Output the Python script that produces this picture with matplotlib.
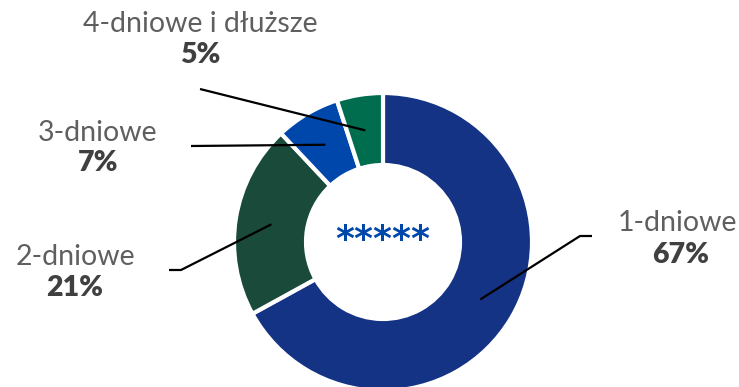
import numpy as np
import matplotlib.pyplot as plt

categories = ["1-dniowe", "2-dniowe", "3-dniowe", "4-dniowe i dłuższe"]
shares = [67, 21, 7, 5]
colors = ["#153384", "#1a4a3a", "#0047ab", "#006e4e"]
center_text = "*****"

W, H = 739, 387
fig = plt.figure(figsize=(W / 100, H / 100), dpi=100)
ax = fig.add_axes([0, 0, 1, 1])

cx, cy = 383, H - 242
R, r = 149, 77

wedges, _ = ax.pie(shares, colors=colors, startangle=90, counterclock=False,
                   radius=R, center=(cx, cy), frame=True,
                   wedgeprops=dict(width=R - r, edgecolor="white", linewidth=3))
ax.set_xlim(0, W)
ax.set_ylim(0, H)
ax.set_aspect("equal")
ax.axis("off")

ax.text(cx, cy + 2, center_text, ha="center", va="center", color="#0047ab",
        fontsize=26, fontweight="bold", family="DejaVu Sans")

# label layout: name x, name y, percentage y, leader start points (pixels from top)
layout = {
    "1-dniowe": dict(x=677, y=223, py=255, start=[(592, 236), (580, 236)]),
    "2-dniowe": dict(x=75, y=257, py=288, start=[(169, 270), (181, 270)]),
    "3-dniowe": dict(x=98, y=133, py=163, start=[(191, 146)]),
    "4-dniowe i dłuższe": dict(x=200, y=24, py=55, start=[(200, 89)]),
}

rm = (R + r) / 2
for w, cat, val in zip(wedges, categories, shares):
    mid = np.deg2rad((w.theta1 + w.theta2) / 2)
    ex, ey = cx + rm * np.cos(mid), cy + rm * np.sin(mid)
    L = layout[cat]
    pts = [(x, H - y) for x, y in L["start"]] + [(ex, ey)]
    xs, ys = zip(*pts)
    ax.plot(xs, ys, color="black", linewidth=1.6, solid_capstyle="butt", zorder=5)
    ax.text(L["x"], H - L["y"], cat, ha="center", va="center", color="#5f5f5f",
            fontsize=20.5, family="Lato")
    ax.text(L["x"] + (4 if cat == "1-dniowe" else 0), H - L["py"], f"{val}%",
            ha="center", va="center", color="#404040",
            fontsize=20.5, fontweight="heavy", family="Lato")

fig.savefig("out.png", dpi=100)
